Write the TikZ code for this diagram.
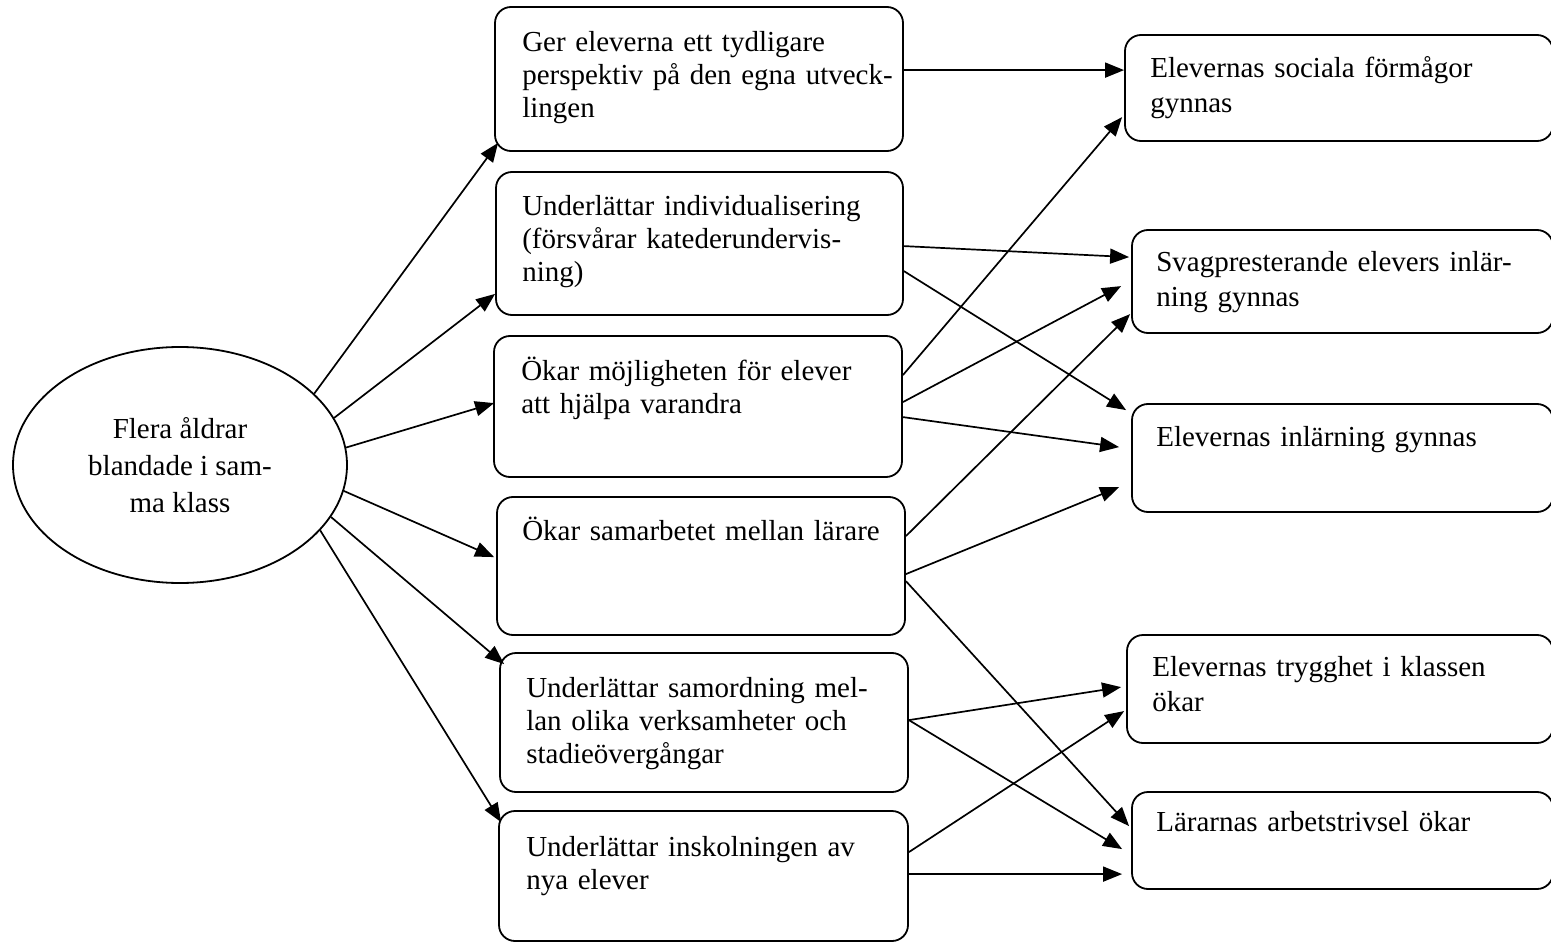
\documentclass[tikz,border=0pt]{standalone}
\usepackage{fontspec}
\setmainfont{Liberation Serif}
\usetikzlibrary{arrows.meta,calc,shapes.geometric}
\begin{document}
\begin{tikzpicture}[x=1pt,y=-1pt,
  box/.style={draw,line width=1.8pt,rounded corners=16pt,inner sep=0pt},
  txt/.style={anchor=base west,inner sep=0pt,align=left,text width=410pt,font=\fontsize{29}{33}\selectfont},
  rtxt/.style={txt,font=\fontsize{29}{35}\selectfont},
  arr/.style={line width=1.7pt,-{Triangle[length=19pt,width=15pt]}}]
\useasboundingbox (0,0) rectangle (1551,944);

% ellipse
\node[draw,ellipse,line width=1.8pt,minimum width=334pt,minimum height=236pt,inner sep=0pt,
  align=center,font=\fontsize{29}{37}\selectfont] (e) at (180,465)
  {Flera åldrar\\blandade i sam-\\ma klass};

% middle boxes
\node[box,minimum width=408pt,minimum height=144pt] (b1) at (699,79) {};
\node[box,minimum width=407pt,minimum height=143pt] (b2) at (699.5,243.5) {};
\node[box,minimum width=408pt,minimum height=141pt] (b3) at (698,406.5) {};
\node[box,minimum width=408pt,minimum height=138pt] (b4) at (701,566) {};
\node[box,minimum width=408pt,minimum height=139pt] (b5) at (704,722.5) {};
\node[box,minimum width=409pt,minimum height=130pt] (b6) at (703.5,876) {};

% right boxes
\node[box,minimum width=428pt,minimum height=106pt] (r1) at (1339,88) {};
\node[box,minimum width=421pt,minimum height=103pt] (r2) at (1342.5,281.5) {};
\node[box,minimum width=421pt,minimum height=108pt] (r3) at (1342.5,458) {};
\node[box,minimum width=426pt,minimum height=108pt] (r4) at (1340,689) {};
\node[box,minimum width=421pt,minimum height=97pt] (r5) at (1342.5,840.5) {};

% texts
\node[txt] (t1) at ($(b1.north west)+(28,45)$) {Ger eleverna ett tydligare\\perspektiv på den egna utveck-\\lingen};
\node[txt] (t2) at ($(b2.north west)+(27,44)$) {Underlättar individualisering\\(försvårar katederundervis-\\ning)};
\node[txt] (t3) at ($(b3.north west)+(28,45)$) {Ökar möjligheten för elever\\att hjälpa varandra};
\node[txt] (t4) at ($(b4.north west)+(26,44)$) {Ökar samarbetet mellan lärare};
\node[txt] (t5) at ($(b5.north west)+(27,45)$) {Underlättar samordning mel-\\lan olika verksamheter och\\stadieövergångar};
\node[txt] (t6) at ($(b6.north west)+(28,46)$) {Underlättar inskolningen av\\nya elever};

\node[rtxt] (s1) at ($(r1.north west)+(26,43)$) {Elevernas sociala förmågor\\gynnas};
\node[rtxt] (s2) at ($(r2.north west)+(25,42)$) {Svagpresterande elevers inlär-\\ning gynnas};
\node[rtxt] (s3) at ($(r3.north west)+(25,43)$) {Elevernas inlärning gynnas};
\node[rtxt] (s4) at ($(r4.north west)+(26,42)$) {Elevernas trygghet i klassen\\ökar};
\node[rtxt] (s5) at ($(r5.north west)+(25,40)$) {Lärarnas arbetstrivsel ökar};

% ellipse to middle boxes
\draw[arr] (e.28.4) -- ($(b1.south west)+(4,-9)$);
\draw[arr] (e.17.5) -- ($(b2.south west)+(0,-22)$);
\draw[arr] (e.6.8) -- ($(b3.north west)+(1,68)$);
\draw[arr] (e.-9.1) -- ($(b4.north west)+(-2,61)$);
\draw[arr] (e.-19.8) -- ($(b5.north west)+(5,12)$);
\draw[arr] (e.-25.7) -- ($(b6.north west)+(3,12)$);

% middle to right boxes
\draw[arr] ($(b1.north east)+(0,64)$) -- ($(r1.north west)+(0,36)$);
\draw[arr] ($(b2.north east)+(0,75)$) -- ($(r2.north west)+(-2,28)$);
\draw[arr] ($(b2.north east)+(0,100)$) -- ($(r3.north west)+(-5,7)$);
\draw[arr] ($(b3.north east)+(0,40)$) -- ($(r1.north west)+(-2,83)$);
\draw[arr] ($(b3.north east)+(0,67)$) -- ($(r2.north west)+(-10,57)$);
\draw[arr] ($(b3.north east)+(0,82)$) -- ($(r3.north west)+(-12,44)$);
\draw[arr] ($(b4.north east)+(0,40)$) -- ($(r2.north west)+(-1,85)$);
\draw[arr] ($(b4.north east)+(0,78)$) -- ($(r3.north west)+(-12,84)$);
\draw[arr] ($(b4.north east)+(0,85)$) -- ($(r5.north west)+(-2,35)$);
\draw[arr] ($(b5.north east)+(0,68)$) -- ($(r4.north west)+(-5,53)$);
\draw[arr] ($(b5.north east)+(0,68)$) -- ($(r5.north west)+(-9,58)$);
\draw[arr] ($(b6.north east)+(0,42)$) -- ($(r4.north west)+(-2,77)$);
\draw[arr] ($(b6.north east)+(0,64)$) -- ($(r5.north west)+(-9,83)$);
\end{tikzpicture}
\end{document}
